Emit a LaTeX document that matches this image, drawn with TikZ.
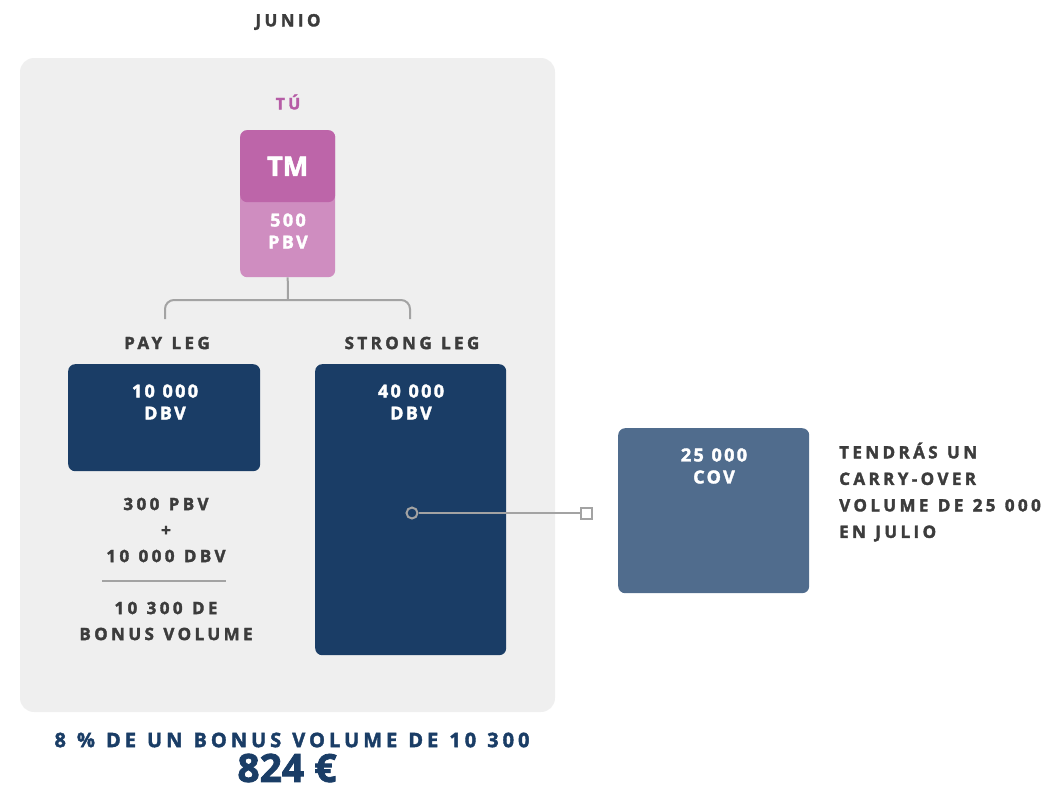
\documentclass[tikz,border=0pt]{standalone}
\usepackage{fontspec}
\setmainfont{Open Sans}
\newfontfamily\wideface[LetterSpace=20, WordSpace=1.2, FakeBold=2]{Open Sans}
\newfontfamily\boxface[LetterSpace=13, WordSpace=1.1, FakeBold=2]{Open Sans}
\newfontfamily\heavyface[FakeBold=2]{Open Sans}
\usepackage{tikz}
\usetikzlibrary{positioning}
\definecolor{panelgray}{HTML}{EFEFEF}
\definecolor{tmdark}{HTML}{BD65A9}
\definecolor{tmlight}{HTML}{CF8DC0}
\definecolor{tupink}{HTML}{B65DA6}
\definecolor{navy}{HTML}{1A3D66}
\definecolor{covblue}{HTML}{506C8D}
\definecolor{labelgray}{HTML}{3C3C3C}
\definecolor{linkgray}{HTML}{A3A3A3}
\tikzset{
  volbox/.style={rectangle, rounded corners=7pt, fill=#1, draw=none,
    anchor=north west, inner sep=0pt},
  volbox/.default=navy,
  boxtext/.style={text=white, align=center, inner sep=0pt,
    font=\boxface\bfseries\fontsize{18}{22}\selectfont},
  headtext/.style={text=labelgray, align=center, inner sep=0pt,
    font=\wideface\bfseries\fontsize{17}{26}\selectfont},
  linkline/.style={draw=linkgray, line width=2pt},
}
\begin{document}
\begin{tikzpicture}[x=1pt, y=-1pt]
  \useasboundingbox (0,0) rectangle (1053,790);
  \node[headtext] (junio) at (288,22) {JUNIO};
  \fill[panelgray, rounded corners=14pt] (20,58) rectangle (555,712);

  % you
  \node[headtext, text=tupink, font=\wideface\bfseries\fontsize{16}{20}\selectfont] (tu) at (288,102) {TÚ};
  \node[volbox=tmlight, minimum width=95pt, minimum height=147pt] (tm) at (240,130) {};
  \node[volbox=tmdark, minimum width=95pt, minimum height=72pt] (tmtop) at (240,130) {};
  \node[boxtext, font=\heavyface\bfseries\fontsize{27}{27}\selectfont] (tmtext) at (tmtop) {TM};
  \node[boxtext] (pbv) at (288,231) {500\\PBV};

  % legs
  \coordinate (fork) at (288,300);
  \coordinate (payfoot) at (165,319);
  \coordinate (strongfoot) at (410,319);
  \draw[linkline] (tm.south) -- (fork);
  \draw[linkline, rounded corners=9pt] (payfoot) |- (fork) -| (strongfoot);
  \node[headtext] (payhead) at (167,343) {PAY LEG};
  \node[headtext] (stronghead) at (412,343) {STRONG LEG};
  \node[volbox, minimum width=192pt, minimum height=107pt] (pay) at (68,364) {};
  \node[volbox, minimum width=191pt, minimum height=291pt] (strong) at (315,364) {};
  \node[boxtext] (paytext) at (165,402) {10 000\\DBV};
  \node[boxtext] (strongtext) at (411,402) {40 000\\DBV};

  % bonus volume
  \node[headtext] (sumtop) at (166,530) {300 PBV\\+\\10 000 DBV};
  \draw[linkline] (102,581) -- (226,581);
  \node[headtext] (sumbottom) at (166,621) {10 300 DE\\BONUS VOLUME};

  % carry-over
  \node[circle, minimum size=11pt, inner sep=0pt, fill=navy, linkline] (tap) at (412,513) {};
  \node[rectangle, minimum size=11pt, inner sep=0pt, fill=white, linkline] (drop) at (586,513) {};
  \draw[linkline] (tap) -- (drop);
  \node[volbox=covblue, minimum width=191pt, minimum height=165pt] (cov) at (618,428) {};
  \node[boxtext] (covtext) at (714,466) {25 000\\COV};
  \node[headtext, align=left, anchor=west, font=\wideface\bfseries\fontsize{17}{26.5}\selectfont] (carrynote) at (839,492)
    {TENDRÁS UN\\CARRY-OVER\\VOLUME DE 25 000\\EN JULIO};

  % payout
  \node[headtext, text=navy, font=\wideface\bfseries\fontsize{20}{24}\selectfont] (bonusline) at (292,740)
    {8 \% DE UN BONUS VOLUME DE 10 300};
  \node[headtext, text=navy, font=\heavyface\bfseries\fontsize{39}{39}\selectfont] (payout) at (287,768) {824 €};
\end{tikzpicture}
\end{document}
